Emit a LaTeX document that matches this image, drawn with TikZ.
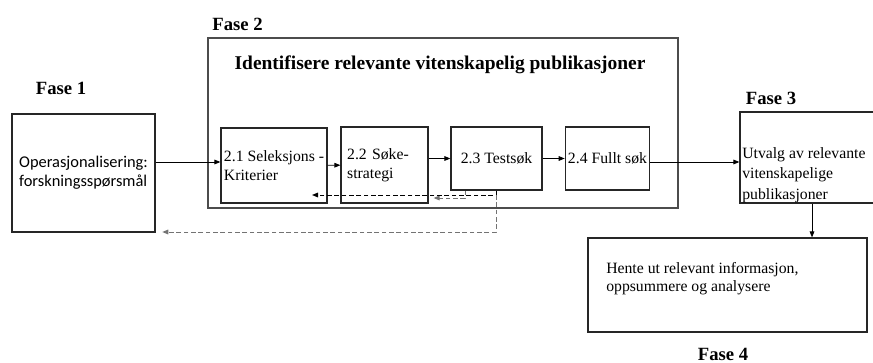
\documentclass[tikz,border=0pt]{standalone}
\usepackage{fontspec}
\setmainfont{Liberation Serif}
\newfontfamily\calibri{Carlito}
\usetikzlibrary{arrows.meta}

\begin{document}
\begin{tikzpicture}[x=0.75pt, y=-0.75pt,
  box/.style={draw=black!85, line width=0.9pt, align=left,
    font=\fontsize{11.8}{14.25}\selectfont, inner sep=2pt},
  fase/.style={font=\fontsize{14}{16}\selectfont\bfseries},
  txt/.style={align=left, inner sep=0pt},
  arrow/.style={-{Triangle[length=4.5pt,width=3.5pt]}, line width=0.7pt},
  back/.style={arrow, dashed, dash pattern=on 3.5pt off 2pt}
]
\useasboundingbox (0,0) rectangle (873,363);

% phase boxes
\node[box, minimum width=107.25pt, minimum height=88.5pt, font=\calibri\fontsize{12.3}{14.25}\selectfont]
  (fase1) at (83.5,173) {Operasjonalisering:\\forskningsspørsmål};
\node[box, draw=black!70, line width=1.1pt, minimum width=352.5pt, minimum height=127.5pt] (fase2) at (443,123) {};
\node[box, minimum width=102pt, minimum height=68.25pt] (fase3) at (808,157.5) {};
\node[box, minimum width=209.25pt, minimum height=70.5pt] (fase4) at (727.5,285) {};

% phase labels
\node[fase] (fase1lbl) at (61,88) {Fase 1};
\node[fase] (fase2lbl) at (237.5,24) {Fase 2};
\node[fase] (fase3lbl) at (771,98) {Fase 3};
\node[fase] (fase4lbl) at (723,354) {Fase 4};
\node[fase, font=\fontsize{14.6}{16}\selectfont\bfseries] (tittel) at (440,65) {Identifisere relevante vitenskapelig publikasjoner};

% steps in fase 2
\node[box, minimum width=79.5pt, minimum height=56.25pt] (s21) at (274,165.5) {2.1 Seleksjons -\\Kriterier};
\node[box, minimum width=65.25pt, minimum height=57pt, text width=56pt] (s22) at (384.5,165) {2.2 Søke-\\strategi};
\node[box, minimum width=68.25pt, minimum height=47.25pt] (s23) at (496.5,158.5) {2.3 Testsøk};
\node[box, minimum width=62.25pt, minimum height=47.25pt] (s24) at (607.5,158.5) {2.4 Fullt søk};

\node[txt, anchor=west, font=\fontsize{11.8}{14.5}\selectfont] (fase3txt) at (742,175) {Utvalg av relevante\\[1pt]vitenskapelige\\[1pt]publikasjoner};
\node[txt, anchor=west, font=\fontsize{11.8}{13.5}\selectfont] (fase4txt) at (606,279) {Hente ut relevant informasjon,\\oppsummere og analysere};

% helper coordinates
\coordinate (hy) at (0,162);
\coordinate (hx) at (812,0);
\coordinate (t1) at (465,0);
\coordinate (t2) at (496,0);
\coordinate (k1) at (0,198);
\coordinate (k2) at (0,195);
\coordinate (k3) at (0,232);
\coordinate (inn21) at (312,195);

% forward flow
\draw[arrow] (fase1.east |- hy) -- (s21.west |- hy);
\draw[arrow] (s21) -- (s22);
\draw[arrow] (s22.east |- s23.west) -- (s23.west);
\draw[arrow] (s23) -- (s24);
\draw[arrow] (s24.east |- hy) -- (fase3.west |- hy);
\draw[arrow] (fase3.south -| hx) -- (fase4.north -| hx);

% feedback from test search
\draw[back, draw=black!55, shorten >=3.75pt] (s23.south -| t1) -- (t1 |- k1) -- (s22.east |- k1);
\draw[back] (s23.south -| t2) -- (t2 |- k2) -- (inn21);
\draw[back, draw=black!55, shorten >=5pt] (t2 |- k2) -- (t2 |- k3) -- (fase1.east |- k3);
\end{tikzpicture}
\end{document}
